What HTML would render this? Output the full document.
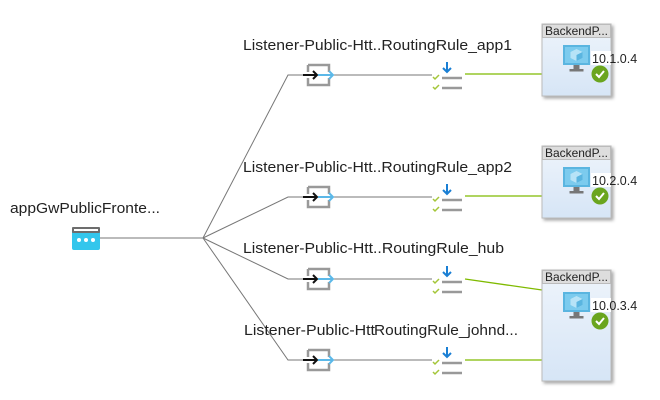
<!DOCTYPE html>
<html><head><style>
html,body{margin:0;padding:0;background:#fff;}
svg{display:block;}
text{font-family:"Liberation Sans",sans-serif;font-size:15px;fill:#222;}
</style></head><body>
<svg width="660" height="400" viewBox="0 0 660 400" xmlns="http://www.w3.org/2000/svg">
<defs>
<g id="lis">
  <path d="M3,-10 h21 v7 M3,-10 v7 M3,3 v7 h21 v-7" fill="none" stroke="#999" stroke-width="2.5"/>
  <path d="M-2,0 h14" stroke="#111" stroke-width="2"/>
  <path d="M8,-4 l4,4 l-4,4" fill="none" stroke="#111" stroke-width="2"/>
  <path d="M13,0 h15" stroke="#5bb8e8" stroke-width="2"/>
  <path d="M24,-4 l4,4 l-4,4" fill="none" stroke="#5bb8e8" stroke-width="2"/>
</g>
<g id="rule">
  <path d="M15,-13 v10" stroke="#1a7fd4" stroke-width="2"/>
  <path d="M11,-7 l4,4 l4,-4" fill="none" stroke="#1a7fd4" stroke-width="2"/>
  <path d="M10,3 h20 M10,13 h20" stroke="#999" stroke-width="2.5"/>
  <path d="M1,2 l2,2 l4,-4 M1,12 l2,2 l4,-4" fill="none" stroke="#a4c639" stroke-width="1.5"/>
</g>
<g id="mon">
  <rect x="0" y="0" width="27" height="20" fill="#5ab5e0"/>
  <rect x="2" y="2" width="23" height="16" fill="#7ccbee"/>
  <path d="M13.5,4 l6,3 v6 l-6,3 l-6,-3 v-6z" fill="#b7e3f7"/>
  <path d="M13.5,10 l6,-3 v6 l-6,3z" fill="#5ab5e0"/>
  <rect x="10.5" y="20" width="6" height="4" fill="#777"/>
  <rect x="6.5" y="24" width="14" height="2.5" fill="#777"/>
</g>
<filter id="sh" x="-10%" y="-10%" width="130%" height="130%"><feDropShadow dx="2" dy="2" stdDeviation="1.5" flood-color="#000" flood-opacity="0.35"/></filter>
<linearGradient id="bg" x1="0" y1="0" x2="0" y2="1"><stop offset="0" stop-color="#eef4fb"/><stop offset="1" stop-color="#d6e5f6"/></linearGradient>
</defs>

<!-- frontend -->
<text x="10" y="213" textLength="150" lengthAdjust="spacingAndGlyphs">appGwPublicFronte...</text>
<rect x="72" y="227" width="28" height="23" rx="2" fill="#33c6ec"/>
<rect x="72" y="227" width="28" height="6" rx="1" fill="#6d6d6d"/>
<rect x="74" y="229" width="24" height="2" fill="#fff"/>
<circle cx="79" cy="240" r="2" fill="#fff"/><circle cx="86" cy="240" r="2" fill="#fff"/><circle cx="93" cy="240" r="2" fill="#fff"/>

<g stroke="#777" stroke-width="1" fill="none">
<path d="M100,238 H203"/>
<path d="M203,238 L288,75 H305"/>
<path d="M203,238 L288,197 H305"/>
<path d="M203,238 L288,279 H305"/>
<path d="M203,238 L288,360 H305"/>
<path d="M333,75 H432 M333,197 H432 M333,279 H432 M333,360 H432"/>
</g>
<g stroke="#7fba00" stroke-width="1.3" fill="none">
<path d="M465,74 H542"/>
<path d="M465,196 H542"/>
<path d="M465,279 L542,290"/>
<path d="M465,360 H542"/>
</g>

<text x="243" y="50" textLength="269" lengthAdjust="spacingAndGlyphs">Listener-Public-Htt..RoutingRule_app1</text>
<text x="243" y="172" textLength="269" lengthAdjust="spacingAndGlyphs">Listener-Public-Htt..RoutingRule_app2</text>
<text x="243" y="253" textLength="261" lengthAdjust="spacingAndGlyphs">Listener-Public-Htt..RoutingRule_hub</text>
<text x="244" y="335" textLength="131" lengthAdjust="spacingAndGlyphs">Listener-Public-Htt</text>
<text x="374" y="335" textLength="144" lengthAdjust="spacingAndGlyphs">RoutingRule_johnd...</text>

<use href="#lis" x="305" y="75"/>
<use href="#lis" x="305" y="197"/>
<use href="#lis" x="305" y="279"/>
<use href="#lis" x="305" y="360"/>
<use href="#rule" x="432" y="75"/>
<use href="#rule" x="432" y="197"/>
<use href="#rule" x="432" y="279"/>
<use href="#rule" x="432" y="360"/>

<!-- backend boxes -->
<g filter="url(#sh)">
<rect x="542" y="24" width="69" height="72" fill="url(#bg)" stroke="#bbb"/>
<rect x="542" y="146" width="69" height="72" fill="url(#bg)" stroke="#bbb"/>
<rect x="542" y="270" width="69" height="111" fill="url(#bg)" stroke="#bbb"/>
</g>
<rect x="542.5" y="24.5" width="68" height="13" fill="#ddd" stroke="#bbb"/>
<rect x="542.5" y="146.5" width="68" height="13" fill="#ddd" stroke="#bbb"/>
<rect x="542.5" y="270.5" width="68" height="13" fill="#ddd" stroke="#bbb"/>
<text x="545" y="35" style="font-size:12px" textLength="63" lengthAdjust="spacingAndGlyphs">BackendP...</text>
<text x="545" y="157" style="font-size:12px" textLength="63" lengthAdjust="spacingAndGlyphs">BackendP...</text>
<text x="545" y="281" style="font-size:12px" textLength="63" lengthAdjust="spacingAndGlyphs">BackendP...</text>
<use href="#mon" x="563" y="45"/>
<use href="#mon" x="563" y="167"/>
<use href="#mon" x="563" y="292"/>
<rect x="591" y="51" width="20" height="14" fill="#fff"/>
<rect x="591" y="173" width="20" height="14" fill="#fff"/>
<rect x="591" y="298" width="20" height="14" fill="#fff"/>
<text x="592" y="63" style="font-size:12.5px">10.1.0.4</text>
<text x="592" y="185" style="font-size:12.5px">10.2.0.4</text>
<text x="592" y="310" style="font-size:12.5px">10.0.3.4</text>
<circle cx="600" cy="74" r="8.5" fill="#6aa51e"/><path d="M596,74 l3,3 l5,-6" fill="none" stroke="#fff" stroke-width="2"/>
<circle cx="600" cy="196" r="8.5" fill="#6aa51e"/><path d="M596,196 l3,3 l5,-6" fill="none" stroke="#fff" stroke-width="2"/>
<circle cx="600" cy="321" r="8.5" fill="#6aa51e"/><path d="M596,321 l3,3 l5,-6" fill="none" stroke="#fff" stroke-width="2"/>
</svg>
</body></html>
